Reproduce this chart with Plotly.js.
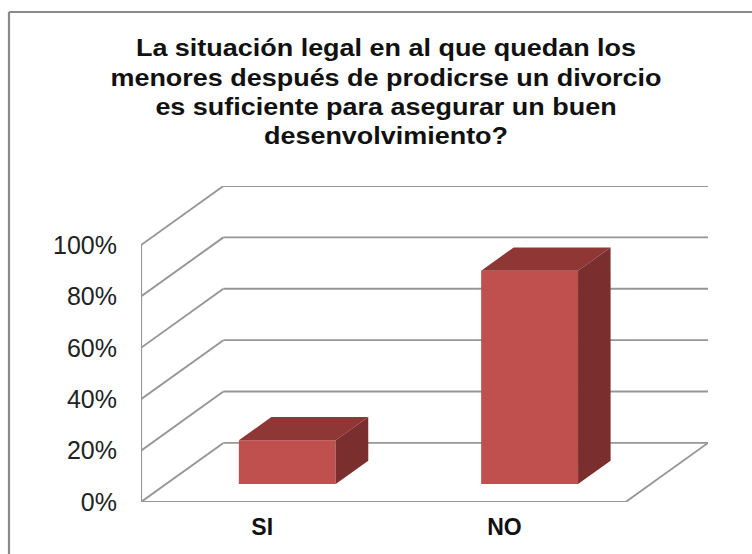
<!DOCTYPE html>
<html>
<head>
<meta charset="utf-8">
<script src="https://cdn.plot.ly/plotly-3.0.1.min.js"></script>
<style>
html,body{margin:0;padding:0;background:#fff}#c{width:752px;height:554px}
.gtitle{transform-box:fill-box;transform-origin:center;transform:scaleX(1.1)}
</style>
</head>
<body>
<div id="c"></div>
<script>
var categories = ['SI', 'NO'];
var values = [17, 83];
var tickPercents = [0, 20, 40, 60, 80, 100];
var titleText = 'La situación legal en al que quedan los<br>menores después de prodicrse un divorcio<br>es suficiente para asegurar un buen<br>desenvolvimiento?';

var DEPTH_X = 0.34, DEPTH_Y = 23, BAR_W = 0.4, F_NEAR = 0.305, F_FAR = 0.70;
var GRID = '#969696', FRONT = '#C0504D', TOP = '#8E3735', SIDE = '#7A2F2E';
var centers = categories.map(function (c, i) { return i + 0.5; });
var XN = categories.length;

function seg(x0, y0, x1, y1, w) {
  return {type:'line', layer:'below', xref:'x', yref:'y', x0:x0, y0:y0, x1:x1, y1:y1,
          line:{color:GRID, width:w || 1.9}};
}
var shapes = [];
tickPercents.forEach(function (t) {
  shapes.push(seg(0, t, DEPTH_X, t + DEPTH_Y));
  shapes.push(seg(DEPTH_X, t + DEPTH_Y, XN + DEPTH_X, t + DEPTH_Y));
});
shapes.push(seg(XN, 0, XN + DEPTH_X, DEPTH_Y));
shapes.push(seg(0, 0, XN, 0, 2.2));
shapes.push(seg(0, 0, 0, tickPercents[tickPercents.length - 1], 2.2));
shapes.push({type:'line', xref:'paper', yref:'paper', xsizemode:'pixel', ysizemode:'pixel',
             xanchor:0, yanchor:1, x0:-132, x1:-132, y0:174, y1:-400,
             line:{color:'#8a8a8a', width:2.2}});
shapes.push({type:'line', xref:'paper', yref:'paper', xsizemode:'pixel', ysizemode:'pixel',
             xanchor:0, yanchor:1, x0:-132, x1:620, y0:174, y1:174,
             line:{color:'#8a8a8a', width:2.2}});

var nearX = F_NEAR * DEPTH_X, nearY = F_NEAR * DEPTH_Y;
var farX = F_FAR * DEPTH_X, farY = F_FAR * DEPTH_Y;

var traces = [{
  type:'bar', x:centers.map(function (c) { return c + nearX; }), y:values,
  base:values.map(function () { return nearY; }), width:BAR_W,
  marker:{color:FRONT, line:{width:0}}, hoverinfo:'skip', showlegend:false
}];
values.forEach(function (v, i) {
  var l = centers[i] + nearX - BAR_W / 2, r = l + BAR_W, t = nearY + v;
  var dx = farX - nearX, dy = farY - nearY;
  traces.push({type:'scatter', mode:'lines', fill:'toself', fillcolor:TOP, line:{width:0, color:TOP},
    x:[l, l + dx, r + dx, r, l], y:[t, t + dy, t + dy, t, t], hoverinfo:'skip', showlegend:false, cliponaxis:false});
  traces.push({type:'scatter', mode:'lines', fill:'toself', fillcolor:SIDE, line:{width:0, color:SIDE},
    x:[r, r + dx, r + dx, r, r], y:[t, t + dy, nearY + dy, nearY, t], hoverinfo:'skip', showlegend:false, cliponaxis:false});
});

var layout = {
  width:752, height:554, paper_bgcolor:'#fff', plot_bgcolor:'#fff',
  margin:{l:141, r:44, t:186, b:52, pad:0}, showlegend:false, hovermode:false, barmode:'overlay',
  font:{family:'"Liberation Sans", Arial, sans-serif', color:'#000'},
  title:{text:titleText, font:{family:'"Liberation Sans", Arial, sans-serif', size:24.5, color:'#111', weight:'bold'},
         x:0.5133, xref:'container', xanchor:'center', y:0.898, yref:'container', yanchor:'top'},
  xaxis:{range:[0, XN + DEPTH_X], tickmode:'array', tickvals:centers, ticktext:categories,
         tickfont:{size:23, weight:'bold', color:'#111'}, showgrid:false, zeroline:false, showline:false,
         ticks:'outside', ticklen:4, tickcolor:'rgba(0,0,0,0)', fixedrange:true},
  yaxis:{range:[0, 123], tickmode:'array', tickvals:tickPercents,
         ticktext:tickPercents.map(function (t) { return t + '%'; }),
         tickfont:{size:25, color:'#222'}, showgrid:false, zeroline:false, showline:false,
         ticks:'outside', ticklen:18, tickcolor:'rgba(0,0,0,0)', fixedrange:true},
  shapes:shapes
};
Plotly.newPlot('c', traces, layout, {displayModeBar:false, staticPlot:true}).then(function (gd) {
  gd.querySelectorAll('.gtitle tspan.line').forEach(function (t, i) {
    t.setAttribute('dy', (i * 1.19) + 'em');
  });
});
</script>
</body>
</html>
